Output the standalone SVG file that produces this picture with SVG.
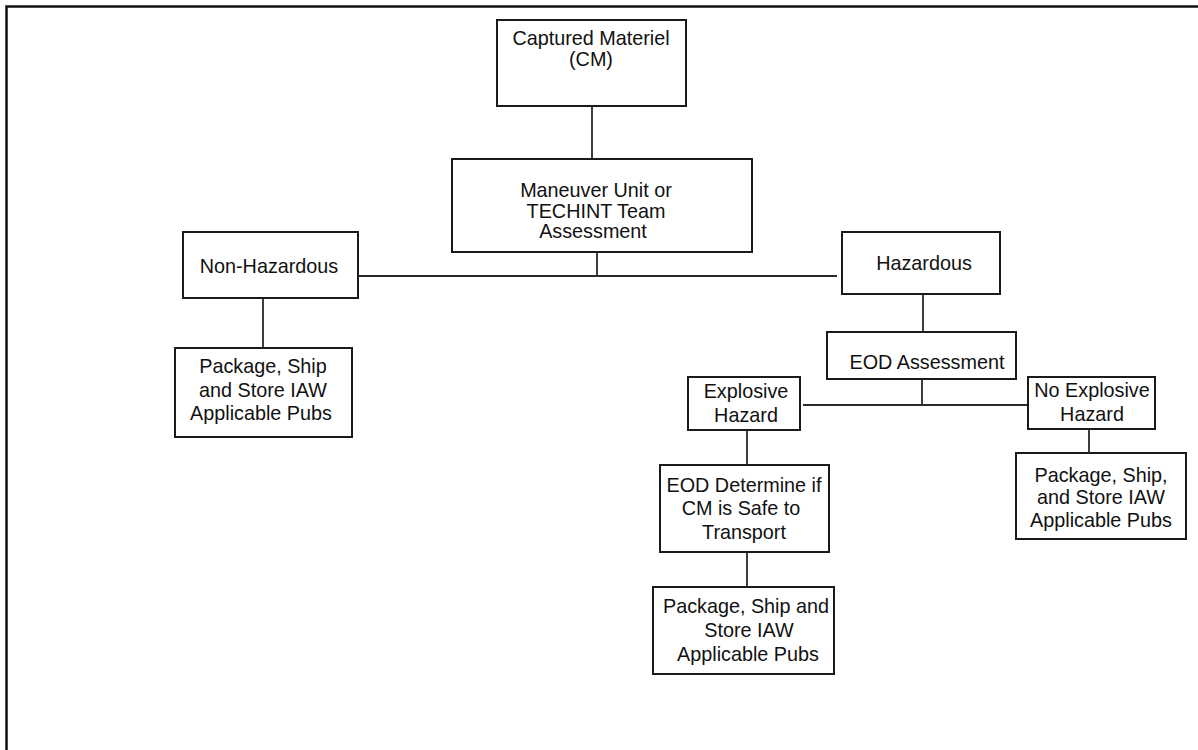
<svg xmlns="http://www.w3.org/2000/svg" width="1198" height="750" viewBox="0 0 1198 750">
<style>
.box{fill:#fff;stroke:#1a1a1a;stroke-width:2}
.ln{fill:none;stroke:#2a2a2a;stroke-width:1.8}
text{font-family:"Liberation Sans",Arial,sans-serif;font-size:19.8px;fill:#111;text-anchor:middle}
</style>
<rect width="1198" height="750" fill="#fff"/>
<path d="M6.5,750 V6.5 H1198" fill="none" stroke="#111" stroke-width="2.5"/>
<g id="connectors" class="ln">
<line x1="592" y1="106" x2="592" y2="159"/>
<line x1="597" y1="252" x2="597" y2="276"/>
<line x1="359" y1="276" x2="837" y2="276"/>
<line x1="263" y1="298" x2="263" y2="347"/>
<line x1="923" y1="295" x2="923" y2="331"/>
<line x1="922" y1="380" x2="922" y2="405"/>
<line x1="803" y1="405" x2="1028" y2="405"/>
<line x1="747" y1="430" x2="747" y2="465"/>
<line x1="747" y1="552" x2="747" y2="587"/>
<line x1="1089" y1="429" x2="1089" y2="453"/>
</g>
<g id="cm"><rect class="box" x="497" y="20" width="189" height="86"/><text x="591" y="45">Captured Materiel</text><text x="591" y="66">(CM)</text></g>
<g id="mut"><rect class="box" x="452" y="159" width="300" height="93"/><text x="596" y="197">Maneuver Unit or</text><text x="596" y="218">TECHINT Team</text><text x="593" y="238">Assessment</text></g>
<g id="nonhaz"><rect class="box" x="183" y="232" width="175" height="66"/><text x="269" y="273">Non-Hazardous</text></g>
<g id="pkg1"><rect class="box" x="175" y="348" width="177" height="89"/><text x="263" y="373">Package, Ship</text><text x="263" y="397">and Store IAW</text><text x="261" y="420">Applicable Pubs</text></g>
<g id="haz"><rect class="box" x="842" y="232" width="158" height="62"/><text x="924" y="270">Hazardous</text></g>
<g id="eod"><rect class="box" x="827" y="332" width="189" height="47"/><text x="927" y="369">EOD Assessment</text></g>
<g id="exp"><rect class="box" x="688" y="377" width="112" height="53"/><text x="746" y="398">Explosive</text><text x="746" y="422">Hazard</text></g>
<g id="noexp"><rect class="box" x="1028" y="377" width="127" height="52"/><text x="1092" y="397">No Explosive</text><text x="1092" y="421">Hazard</text></g>
<g id="eoddet"><rect class="box" x="660" y="465" width="169" height="87"/><text x="744" y="492">EOD Determine if</text><text x="741" y="515">CM is Safe to</text><text x="744" y="539">Transport</text></g>
<g id="pkg2"><rect class="box" x="653" y="587" width="181" height="87"/><text x="746" y="613">Package, Ship and</text><text x="749" y="637">Store IAW</text><text x="748" y="661">Applicable Pubs</text></g>
<g id="pkg3"><rect class="box" x="1016" y="453" width="170" height="86"/><text x="1101" y="482">Package, Ship,</text><text x="1101" y="504">and Store IAW</text><text x="1101" y="527">Applicable Pubs</text></g>
</svg>
